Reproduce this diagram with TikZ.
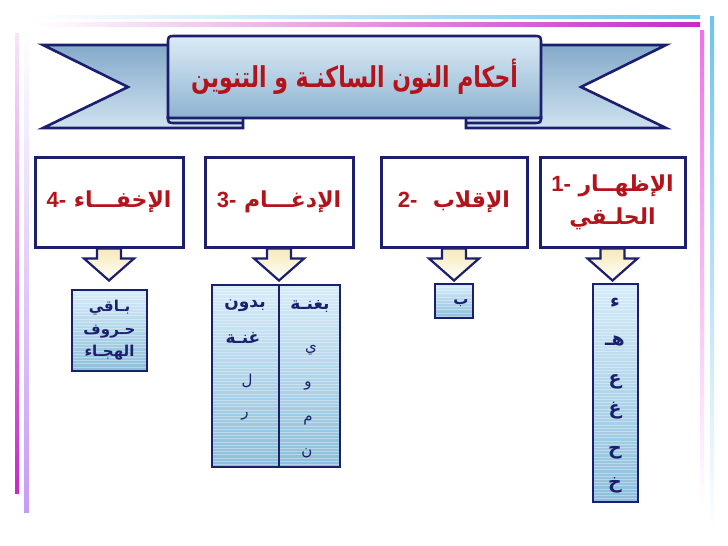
\documentclass[tikz,border=0pt]{standalone}
\usepackage{fontspec}
\usepackage{graphicx}
\TeXXeTstate=1
\newfontfamily\arb[Script=Arabic]{DejaVu Sans}
\newfontfamily\lat{Liberation Sans}
\usetikzlibrary{calc}
\definecolor{navy}{HTML}{1B1F6E}
\definecolor{dred}{HTML}{B3141B}
\definecolor{cyanl}{HTML}{6EC3EE}
\definecolor{magl}{HTML}{C62BC6}
\definecolor{magr}{HTML}{F070E8}
\definecolor{lav}{HTML}{C59CF5}
\definecolor{bantop}{HTML}{DCEBF6}
\definecolor{banbot}{HTML}{8DB3D0}
\definecolor{tailtop}{HTML}{84AACA}
\definecolor{tailbot}{HTML}{CFE2F0}
\definecolor{lbtop}{HTML}{D6ECF9}
\definecolor{lbbot}{HTML}{8CBEDA}
\definecolor{arrtop}{HTML}{F7E9B5}
\newcommand\AR[1]{{\arb\beginR #1\endR}}
\tikzset{
  bandline/.style={draw=navy, line width=2.6pt, line join=miter},
  tailshape/.style={bandline, top color=tailtop, bottom color=tailbot},
  centershape/.style={bandline, top color=bantop, bottom color=banbot},
  topbox/.style={draw=navy, line width=3pt, fill=white, minimum width=#1, minimum height=90pt, inner sep=0pt},
  lowbox/.style={draw=navy, line width=2.6pt, top color=lbtop, bottom color=lbbot, inner sep=0pt,
    path picture={\foreach \k in {1,...,70}{\draw[white,opacity=.35,line width=.5pt]
      ([yshift={-\k*3.2pt}]path picture bounding box.north west) -- ([yshift={-\k*3.2pt}]path picture bounding box.north east);}}},
  lbl/.style={text=dred, font=\arb\bfseries\fontsize{22}{33}\selectfont, inner sep=0pt, align=center},
  titletext/.style={text=dred, font=\arb\bfseries\fontsize{25}{30}\selectfont, inner sep=0pt},
  blockarr/.style={draw=navy, line width=2.2pt, top color=arrtop, bottom color=white, line join=miter},
  lowtxt/.style={text=navy, font=\arb\bfseries\fontsize{15}{22.5}\selectfont, inner sep=0pt, align=center},
  letter/.style={text=navy, font=\arb\fontsize{15}{18}\selectfont, inner sep=0pt},
  bigletter/.style={text=navy, font=\arb\bfseries\fontsize{19}{22}\selectfont, inner sep=0pt},
}
\newcommand\blockarrow[1]{%
  \path[blockarr] ($(#1.south)+(-12,0)$) -- ($(#1.south)+(12,0)$) -- ($(#1.south)+(12,10)$)
    -- ($(#1.south)+(25,10)$) -- ($(#1.south)+(0,32)$) -- ($(#1.south)+(-25,10)$)
    -- ($(#1.south)+(-12,10)$) -- cycle;}
\begin{document}
\begin{tikzpicture}[x=1pt,y=-1pt]
\useasboundingbox (0,0) rectangle (728,546);
\fill[white] (0,0) rectangle (728,546);
% decorative frame lines
\shade[left color=white, right color=cyanl] (30,15) rectangle (700,18);
\shade[left color=white, right color=magl] (35,22) rectangle (700,26);
\shade[top color=magr, bottom color=white] (700,30) rectangle (704,505);
\shade[top color=cyanl, bottom color=white] (710,16) rectangle (714,530);
\shade[top color=magl!12, bottom color=magl] (15,33) rectangle (19,493);
\shade[top color=white, bottom color=lav] (24,30) rectangle (29,512);
% banner
\path[tailshape] (43,45) -- (243,45) -- (243,128) -- (43,128) -- (128,87) -- cycle;
\path[tailshape] (666,45) -- (466,45) -- (466,128) -- (666,128) -- (581,87) -- cycle;
\path[centershape] (168,118) -- (168,44) .. controls (168,36) .. (176,36) -- (533,36)
   .. controls (541,36) .. (541,44) -- (541,118) -- cycle;
\draw[bandline] (168,116) .. controls (168,123) .. (176,123) -- (243,123);
\draw[bandline] (541,116) .. controls (541,123) .. (533,123) -- (466,123);
\node[titletext] (title) at (354.5,77) {\scalebox{0.88}[1.15]{\AR{أحكام النون الساكنـة و التنوين}}};
% top boxes
\node[topbox=148pt] (b4) at (109,202) {};
\node[topbox=148pt] (b3) at (279,202) {};
\node[topbox=146pt] (b2) at (454,202) {};
\node[topbox=145pt] (b1) at (612.5,202) {};
\node[lbl] (t4) at (b4.center) {{\lat\bfseries 4-} \AR{الإخفـــاء}};
\node[lbl] (t3) at (b3.center) {{\lat\bfseries 3-} \AR{الإدغـــام}};
\node[lbl] (t2) at (b2.center) {{\lat\bfseries 2-}\ \ \AR{الإقلاب}};
\node[lbl] (t1) at (b1.center) {{\lat\bfseries 1-} \AR{الإظهــار}\\\AR{الحلـقي}};
% arrows
\blockarrow{b4}
\blockarrow{b3}
\blockarrow{b2}
\blockarrow{b1}
% lower boxes
\node[lowbox, minimum width=75pt, minimum height=81pt] (l4) at (109.5,330.5) {};
\node[lowtxt] (l4t) at (l4.center) {\AR{بـاقي}\\\AR{حـروف}\\\AR{الهجـاء}};
\node[lowbox, minimum width=128pt, minimum height=182pt] (l3) at (276,376) {};
\draw[navy, line width=1.3pt] ($(l3.north)+(3,0)$) -- ($(l3.south)+(3,0)$);
\node[lowtxt, font=\arb\bfseries\fontsize{17}{20}\selectfont] (h1) at (310,306) {\AR{بغنـة}};
\node[lowtxt, font=\arb\bfseries\fontsize{17}{20}\selectfont] (h2) at (245,306) {\AR{بدون}};
\node[lowtxt, font=\arb\bfseries\fontsize{17}{20}\selectfont] (h3) at (243,338) {\AR{غنـة}};
\node[letter] (y1) at (311,350) {ي};
\node[letter] (y2) at (308,386) {و};
\node[letter] (y3) at (308,421) {م};
\node[letter] (y4) at (307,453) {ن};
\node[letter] (y5) at (247,381) {ل};
\node[letter] (y6) at (245,416) {ر};
\node[lowbox, minimum width=38pt, minimum height=34pt] (l2) at (454,301) {};
\node[bigletter, font=\arb\bfseries\fontsize{15}{18}\selectfont] (l2t) at (461,303) {ب};
\node[lowbox, minimum width=45pt, minimum height=218pt] (l1) at (615.5,393) {};
\node[bigletter] (z1) at (615,303) {ء};
\node[bigletter] (z2) at (615,341) {هـ};
\node[bigletter] (z3) at (615,382) {ع};
\node[bigletter] (z4) at (615,411) {غ};
\node[bigletter] (z5) at (615,453) {ح};
\node[bigletter] (z6) at (615,485) {خ};
\end{tikzpicture}
\end{document}
